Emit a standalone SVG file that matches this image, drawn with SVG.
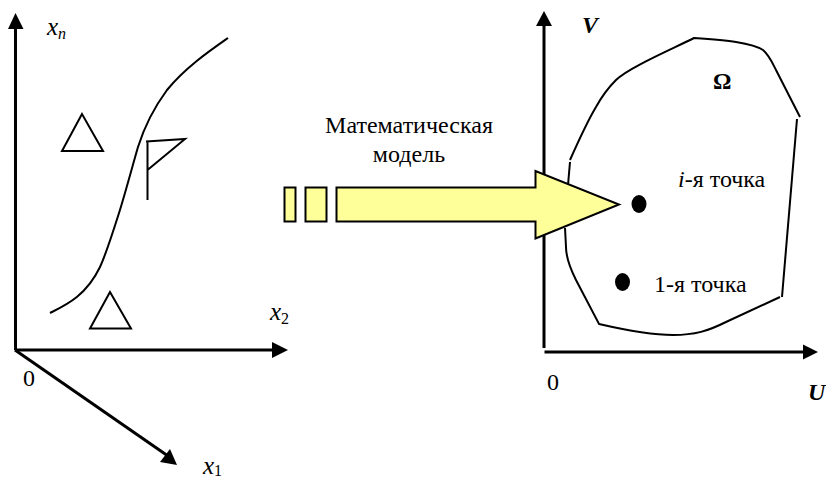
<svg xmlns="http://www.w3.org/2000/svg" width="826" height="479" viewBox="0 0 826 479">
<style>
text{font-family:"Liberation Serif","Times New Roman",serif;fill:#000}
.t{font-size:24px}
.i{font-style:italic;font-size:25px}
.s{font-style:italic;font-size:16px}
.n{font-size:16px}
.b{font-style:italic;font-weight:bold;font-size:24px}
.ax{fill:none;stroke:#000;stroke-width:3}
.ln{fill:none;stroke:#000;stroke-width:2}
.ar{fill:#ffff99;stroke:#000;stroke-width:2}
</style>
<rect width="826" height="479" fill="#fff"/>
<g id="connectors">
<path class="ax" d="M15.500 350V26"/><path d="M8 29L15.500 13L23.500 29Z"/>
<path class="ax" d="M15 350H274"/><path d="M272 342L288 350L272 358Z"/>
<path class="ax" d="M15 350L168 456"/><path d="M160 462L177 465L170 449Z"/>
<path class="ax" d="M544 348V26"/><path d="M536 26L544 11L552 26Z"/>
<path class="ax" d="M544.500 352H805"/><path d="M803 344.500L818 352L803 359.500Z"/>
</g>
<g id="curve-left">
<path class="ln" d="M50 313C66 305 86 296 100 267C106 254 113 232 119 213C125 194 133 164 138 147C144 128 153 109 167 90C185 68 208 52 228 38"/>
</g>
<g id="triangle-top"><path class="ln" d="M82 114L62 151H103Z"/></g>
<g id="triangle-bottom"><path class="ln" d="M110 292L90 328.500H131Z"/></g>
<g id="flag"><path class="ln" d="M147.500 200V141.500M146 141.500L185 139L147.500 170"/></g>
<g id="omega-region">
<path class="ln" d="M570 160C578 142 587 122 596 107C602 96 608 88 616 80C628 68 670 50 694 38C710 39 725 40 736 42C748 44 757 46 763 50C769 55 772 62 776 70L800 117"/>
<path class="ln" d="M797 119L782 297"/>
<path class="ln" d="M780 297L726 322C708 331 695 335 673 335C650 335 625 330 599 324L576 280C570 268 566 258 566 247L565 228"/>
<path class="ln" d="M570 162L568 185"/>
</g>
<g id="big-arrow">
<rect class="ar" x="284.500" y="187.500" width="11" height="34"/>
<rect class="ar" x="305.500" y="187.500" width="21" height="34"/>
<path class="ar" d="M336.500 187.500H535.500V171L619 204.500L535.500 238.500V221.500H336.500Z"/>
</g>
<g id="point-i"><ellipse cx="639" cy="204" rx="7.500" ry="9"/></g>
<g id="point-1"><ellipse cx="622.500" cy="282" rx="7.500" ry="9"/></g>
<g id="labels">
<text x="47" y="35" class="i">x<tspan class="s" dy="4">n</tspan></text>
<text x="270" y="320" class="i">x<tspan class="n" dy="4" style="font-style:normal">2</tspan></text>
<text x="203" y="474" class="i">x<tspan class="n" dy="2" style="font-style:normal">1</tspan></text>
<text x="23" y="386" class="t">0</text>
<text x="547" y="390" class="t">0</text>
<text x="409" y="133" class="t" text-anchor="middle">Математическая</text>
<text x="409" y="162" class="t" text-anchor="middle">модель</text>
<text x="582" y="33" class="b">V</text>
<text x="808" y="400" class="b">U</text>
<text x="713" y="89" font-size="23" font-weight="bold">Ω</text>
<text x="678" y="187" class="t"><tspan font-style="italic">i</tspan>-я точка</text>
<text x="654" y="292" class="t">1-я точка</text>
</g>
</svg>
